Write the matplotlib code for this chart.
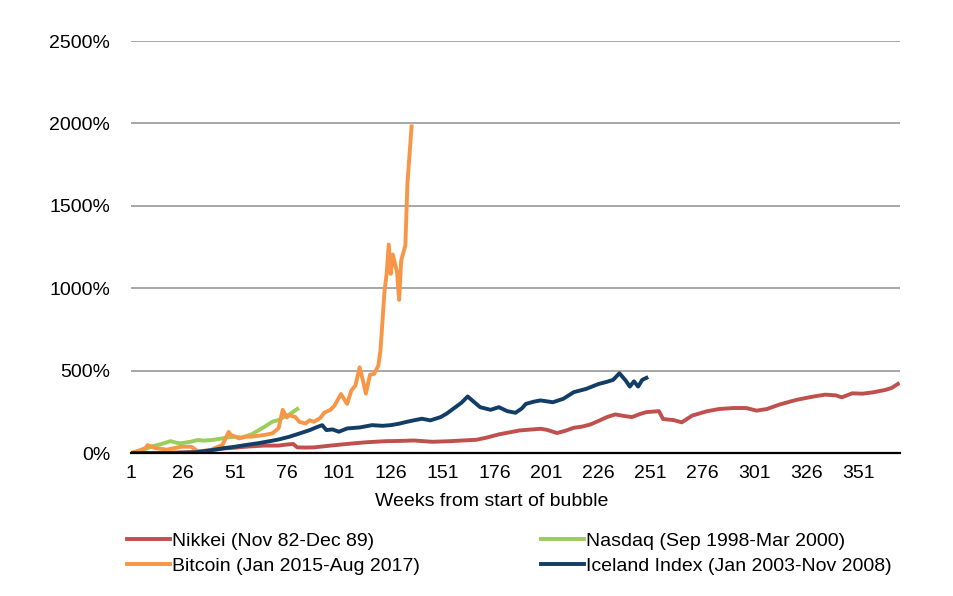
import numpy as np
import matplotlib
matplotlib.use("Agg")
import matplotlib.pyplot as plt

plt.rcParams['font.family'] = ['Liberation Sans', 'DejaVu Sans']

# values (week number, % gain from start)
nikkei_weeks = [1, 10, 20, 30, 35, 40, 46, 51, 56, 65, 72, 75, 79, 81, 85, 89, 97, 105,
                114, 124, 130, 137, 146, 155, 162, 167, 172, 178, 183, 188, 193, 198,
                201, 206, 210, 214, 218, 222, 226, 230, 234, 238, 242, 246, 249, 255,
                257, 262, 266, 271, 278, 284, 291, 297, 302, 307, 313, 321, 329, 335,
                340, 343, 348, 353, 358, 364, 367, 370]
nikkei_vals = [0, 0, 2, 5, 12, 18, 28, 32, 38, 45, 45, 50, 55, 34, 33, 34, 45, 55,
               65, 72, 73, 76, 68, 72, 77, 80, 93, 113, 125, 137, 142, 147,
               141, 121, 135, 153, 160, 173, 195, 218, 234, 225, 218, 237, 248, 254,
               206, 200, 186, 227, 253, 267, 273, 273, 257, 267, 294, 322, 342, 354,
               350, 338, 362, 360, 368, 383, 395, 419]

nasdaq_weeks = [1, 4, 8, 11, 14, 17, 20, 23, 25, 28, 30, 33, 36, 40, 43, 45, 48, 51,
                54, 57, 59, 62, 64, 66, 69, 72, 74, 77, 79, 81]
nasdaq_vals = [0, 10, 24, 40, 49, 60, 72, 62, 59, 65, 69, 79, 75, 79, 85, 89, 95, 99,
               93, 105, 113, 135, 150, 165, 190, 200, 215, 232, 250, 267]

bitcoin_weeks = [1, 4, 8, 9, 12, 14, 18, 22, 25, 30, 33, 37, 41, 45, 48, 49, 53, 56,
                 59, 62, 65, 69, 72, 74, 76, 77, 80, 82, 85, 87, 89, 92, 94, 97, 99,
                 102, 105, 107, 109, 111, 113, 114, 116, 118, 120, 121, 122, 123, 124,
                 125, 126, 127, 129, 130, 131, 133, 134, 136]
bitcoin_vals = [0, 10, 30, 48, 32, 28, 20, 30, 38, 38, 12, 3, 28, 49, 128, 110, 89, 99,
                99, 104, 109, 119, 150, 262, 215, 229, 219, 189, 179, 199, 189, 212, 245,
                262, 289, 358, 298, 379, 410, 520, 419, 360, 475, 480, 530, 620, 800,
                986, 1087, 1265, 1087, 1204, 1097, 929, 1168, 1259, 1634, 1982]

iceland_weeks = [1, 10, 20, 30, 35, 40, 45, 51, 56, 62, 67, 72, 77, 82, 87, 90, 93, 95,
                 98, 101, 105, 111, 117, 122, 126, 130, 134, 137, 141, 145, 150, 153,
                 156, 160, 163, 166, 169, 174, 178, 182, 186, 189, 191, 195, 198, 204,
                 209, 214, 220, 226, 230, 233, 236, 239, 241, 243, 245, 247, 249]
iceland_vals = [0, 0, 0, 3, 8, 18, 28, 38, 48, 59, 70, 82, 98, 118, 139, 155, 169, 139,
                143, 129, 149, 155, 169, 165, 169, 178, 190, 198, 208, 198, 218, 240,
                268, 305, 343, 310, 278, 262, 278, 254, 244, 270, 298, 312, 319, 308,
                329, 369, 389, 419, 432, 444, 484, 440, 403, 435, 403, 444, 456]

labels = ["Nikkei (Nov 82-Dec 89)", "Nasdaq (Sep 1998-Mar 2000)",
          "Bitcoin (Jan 2015-Aug 2017)", "Iceland Index (Jan 2003-Nov 2008)"]
colors = ["#C0504D", "#9ACD5A", "#F79646", "#123D66"]

xticks = list(range(1, 352, 25))
yticks = [0, 500, 1000, 1500, 2000, 2500]

fig = plt.figure(figsize=(9.54, 5.96), dpi=100)
ax = fig.add_axes([131 / 954, 1 - 453 / 596, (900 - 131) / 954, (453 - 41) / 596])

series = [(nikkei_weeks, nikkei_vals), (nasdaq_weeks, nasdaq_vals),
          (bitcoin_weeks, bitcoin_vals), (iceland_weeks, iceland_vals)]
handles = []
for (w, v), lab, c in zip(series, labels, colors):
    h, = ax.plot(w, v, color=c, lw=2.8, label=lab, solid_joinstyle='round', zorder=3)
    handles.append(h)

ax.set_xlim(1, 371)
ax.set_ylim(0, 2500)
ax.set_xticks(xticks)
ax.set_xticklabels([str(t) for t in xticks])
ax.set_yticks(yticks)
ax.set_yticklabels([f"{t}%" for t in yticks])
ax.tick_params(axis='both', length=0, labelsize=14)
ax.tick_params(axis='x', pad=9)
ax.tick_params(axis='y', pad=15)

ax.yaxis.grid(True, color='#8f8f8f', lw=1.1)
ax.set_axisbelow(True)
for s in ['top', 'right', 'left']:
    ax.spines[s].set_visible(False)
ax.spines['bottom'].set_color('black')
ax.spines['bottom'].set_linewidth(1.6)
ax.spines['bottom'].set_zorder(4)

fig.text(492 / 954, 1 - 501 / 596, "Weeks from start of bubble",
         ha='center', va='center', fontsize=14)

# legend is filled column-wise, so reorder to get rows Nikkei/Nasdaq, Bitcoin/Iceland
order = [0, 2, 1, 3]
fig.legend([handles[i] for i in order], [labels[i] for i in order], ncol=2,
           loc='upper left', bbox_to_anchor=(127 / 954, 1 - 532 / 596),
           frameon=False, borderpad=0, borderaxespad=0, fontsize=14,
           handlelength=2.2, handletextpad=0.1, columnspacing=6.25, labelspacing=0.4)

fig.savefig("out.png", dpi=100)
